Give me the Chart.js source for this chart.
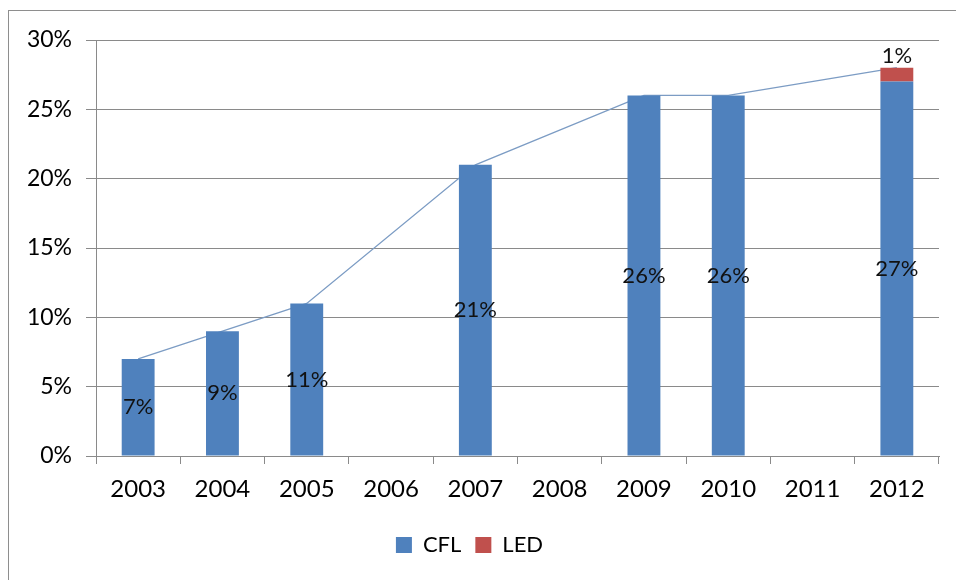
<!DOCTYPE html>
<html>
<head>
<meta charset="utf-8">
<script src="https://cdn.jsdelivr.net/npm/chart.js@4.4.1/dist/chart.umd.min.js"></script>
<style>
  html, body { margin: 0; padding: 0; background: #fff; }
  #wrap { position: relative; width: 956px; height: 580px; overflow: hidden; }
  #frame { position: absolute; left: 8px; top: 10px; width: 960px; height: 600px; border: 1px solid #8e8e8e; box-sizing: border-box; }
  #c { position: absolute; left: 0; top: 0; }
</style>
</head>
<body>
<div id="wrap">
  <div id="frame"></div>
  <canvas id="c" width="956" height="580"></canvas>
</div>
<script>
const years = ['2003', '2004', '2005', '2006', '2007', '2008', '2009', '2010', '2011', '2012'];
const cfl = [7, 9, 11, null, 21, null, 26, 26, null, 27];
const led = [null, null, null, null, null, null, null, null, null, 1];
const total = [7, 9, 11, null, 21, null, 26, 26, null, 28];
const yTicks = [0, 5, 10, 15, 20, 25, 30];

const FONT = 'Lato, Calibri, "Liberation Sans", sans-serif';
const GRID = '#8a8a8a';

// value labels: CFL in the middle of its bar, LED just above the stack
const barLabels = {
  id: 'barLabels',
  afterDatasetsDraw(chart) {
    const ctx = chart.ctx;
    ctx.save();
    ctx.font = '22px ' + FONT;
    ctx.fillStyle = '#111';
    ctx.textAlign = 'center';
    chart.data.datasets.forEach((ds, i) => {
      if (ds.type === 'line') return;
      const meta = chart.getDatasetMeta(i);
      meta.data.forEach((bar, j) => {
        const v = ds.data[j];
        if (v == null) return;
        if (ds.label === 'LED') {
          ctx.textBaseline = 'bottom';
          ctx.fillText(v + '%', bar.x, bar.y - 1);
        } else {
          ctx.textBaseline = 'middle';
          ctx.fillText(v + '%', bar.x, (bar.y + bar.base) / 2);
        }
      });
    });
    ctx.restore();
  }
};

new Chart(document.getElementById('c'), {
  data: {
    labels: years,
    datasets: [
      {
        type: 'line',
        label: 'Total',
        data: total,
        borderColor: '#7c9cc4',
        borderWidth: 1.3,
        pointRadius: 0,
        spanGaps: true,
        tension: 0,
        order: 3
      },
      {
        type: 'bar',
        label: 'CFL',
        data: cfl,
        backgroundColor: '#4f81bd',
        categoryPercentage: 1,
        barPercentage: 0.39,
        order: 1
      },
      {
        type: 'bar',
        label: 'LED',
        data: led,
        backgroundColor: '#c0504d',
        categoryPercentage: 1,
        barPercentage: 0.39,
        order: 2
      }
    ]
  },
  options: {
    responsive: false,
    animation: false,
    layout: { padding: { left: 0, right: 17, top: 40, bottom: 14 } },
    plugins: {
      tooltip: { enabled: false },
      legend: {
        position: 'bottom',
        labels: {
          font: { family: FONT, size: 22 },
          color: '#000',
          boxWidth: 16,
          boxHeight: 16,
          padding: 14,
          filter: item => item.text !== 'Total'
        }
      }
    },
    scales: {
      x: {
        stacked: true,
        grid: { offset: true, drawOnChartArea: false, tickLength: 8, color: GRID },
        border: { color: GRID },
        ticks: { font: { family: FONT, size: 24 }, color: '#000', padding: 11 },
        afterFit: s => { s.height = 64; }
      },
      y: {
        stacked: true,
        min: 0,
        max: 30,
        afterBuildTicks: s => { s.ticks = yTicks.map(v => ({ value: v })); },
        grid: { tickLength: 10, color: GRID },
        border: { color: GRID },
        ticks: { font: { family: FONT, size: 23 }, color: '#000', padding: 14, callback: v => v + '%' },
        afterFit: s => { s.width = 96; }
      }
    }
  },
  plugins: [barLabels]
});
</script>
</body>
</html>
